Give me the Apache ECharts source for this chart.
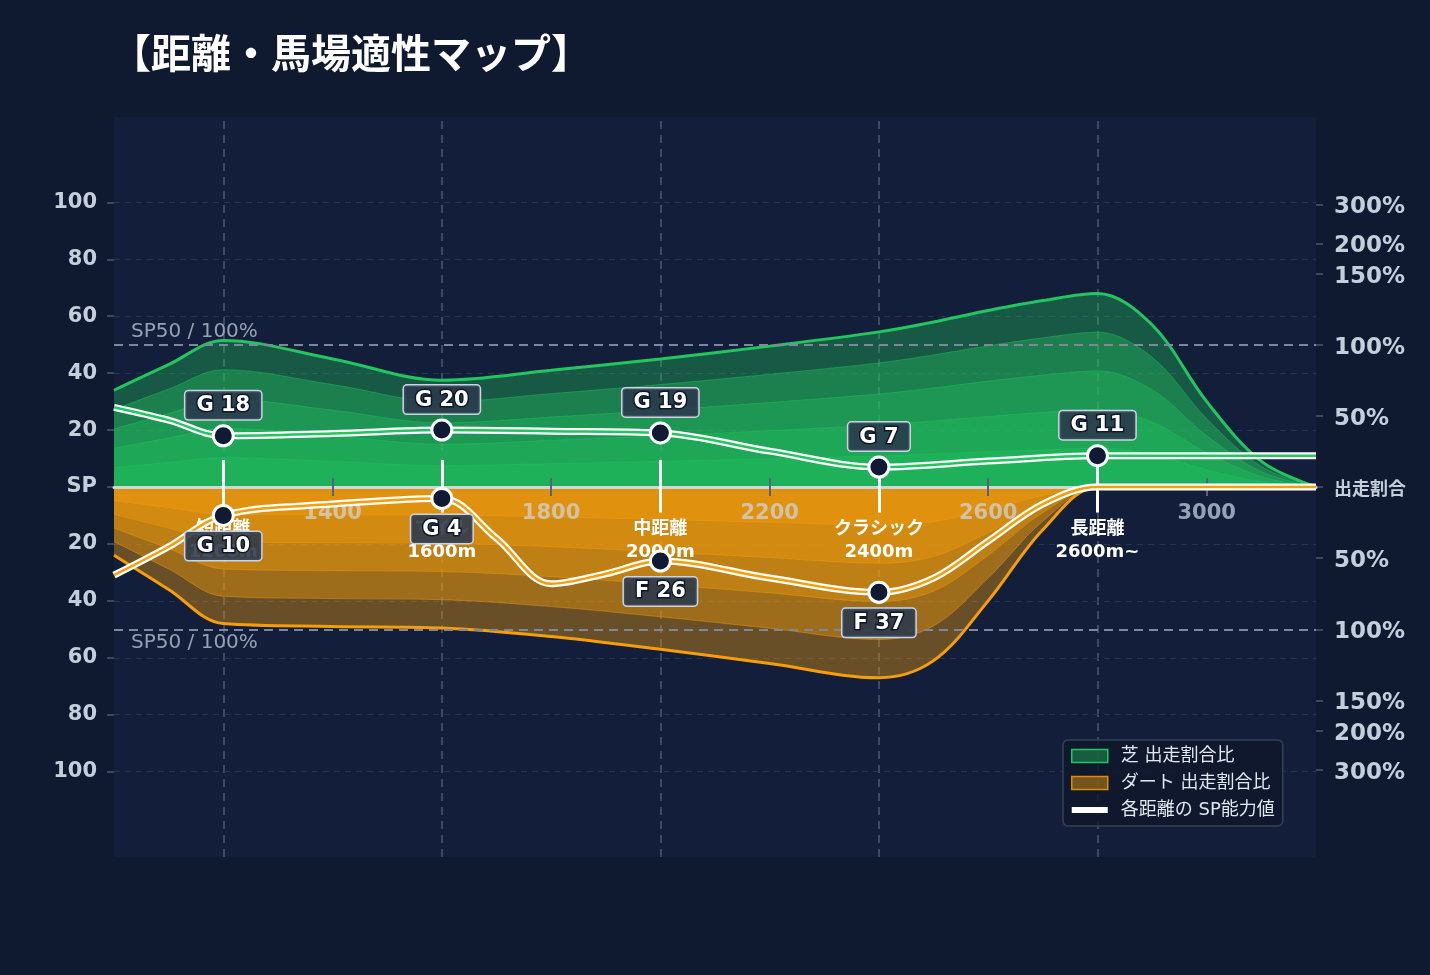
<!DOCTYPE html>
<html lang="ja">
<head>
<meta charset="utf-8">
<title>距離・馬場適性マップ</title>
<script src="https://cdn.jsdelivr.net/npm/echarts@6/dist/echarts.min.js"></script>
<style>
  html, body { margin: 0; padding: 0; background: #0f1a30; }
  #chart { width: 1430px; height: 975px; }
</style>
</head>
<body>
<div id="chart"></div>
<script>
// distances (m) where the band outlines were read
const distGrid = [1000, 1100, 1200, 1400, 1600, 1800, 2000, 2200, 2400, 2500, 2600, 2700, 2800, 2900, 3000, 3100, 3200];

// turf run-ratio layers (outer -> inner), SP units
const turf5 = [34, 43, 51.5, 45, 37.5, 41, 45, 49.5, 54.5, 58, 62, 65.5, 68, 57, 30, 9, 0];
const turf4 = [27.2, 34.4, 41.2, 36, 30, 32.8, 36, 39.6, 43.6, 46.4, 49.6, 52.4, 54.4, 45.6, 24, 7.2, 0];
const turf3 = [20.4, 25.8, 30.9, 27, 22.5, 24.6, 27, 29.7, 32.7, 34.8, 37.2, 39.3, 40.8, 34.2, 18, 5.4, 0];
const turf2 = [13.6, 17.2, 20.6, 18, 15, 16.4, 18, 19.8, 21.8, 23.2, 24.8, 26.2, 27.2, 22.8, 12, 3.6, 0];
const turf1 = [6.8, 8.6, 10.3, 9, 7.5, 8.2, 9, 9.9, 10.9, 11.6, 12.4, 13.1, 13.6, 11.4, 6, 1.8, 0];

// dirt run-ratio layers (drawn downwards)
const dirt5 = [-24, -36, -48, -49, -49.5, -52.5, -57, -62, -67, -61, -40, -15, 0, 0, 0, 0, 0];
const dirt4 = [-19.2, -28.8, -38.4, -39.2, -39.6, -42, -45.6, -49.6, -53.6, -48.8, -32, -12, 0, 0, 0, 0, 0];
const dirt3 = [-14.4, -21.6, -28.8, -29.4, -29.7, -31.5, -34.2, -37.2, -40.2, -36.6, -24, -9, 0, 0, 0, 0, 0];
const dirt2 = [-9.6, -14.4, -19.2, -19.6, -19.8, -21, -22.8, -24.8, -26.8, -24.4, -16, -6, 0, 0, 0, 0, 0];
const dirt1 = [-4.8, -7.2, -9.6, -9.8, -9.9, -10.5, -11.4, -12.4, -13.4, -12.2, -8, -3, 0, 0, 0, 0, 0];

// SP ability curves
const turfSpX = [1000, 1100, 1200, 1400, 1600, 1800, 2000, 2200, 2400, 2600, 2800, 3000, 3200];
const turfSp = [28, 23.5, 18, 18.8, 20, 19.6, 19, 12.6, 7, 9.1, 11, 11, 11];
const dirtSpX = [1000, 1100, 1200, 1400, 1600, 1700, 1800, 1900, 2000, 2200, 2400, 2500, 2600, 2700, 2800, 3000, 3200];
const dirtSp = [-31, -21, -10, -6, -4, -18, -34, -30.5, -26, -32, -37, -32, -19, -6, 0, 0, 0];

// marked distances
const catDist = [1200, 1600, 2000, 2400, 2800];
const catLabels = ['短距離\n1200m', 'マイル\n1600m', '中距離\n2000m', 'クラシック\n2400m', '長距離\n2600m~'];
const turfMarks = [18, 20, 19, 7, 11];
const turfRank = ['G', 'G', 'G', 'G', 'G'];
const dirtDist = [1200, 1600, 2000, 2400];
const dirtMarks = [-10, -4, -26, -37];
const dirtRank = ['G', 'G', 'F', 'F'];
const pinTop = 9.5;
const pinBottom = -9;

// axes
const xTicks = [1400, 1800, 2200, 2600, 3000];
const leftTicks = [-100, -80, -60, -40, -20, 0, 20, 40, 60, 80, 100];
const rightTickVals = [99.3, 85.6, 75, 50, 25, 0, -25, -50, -75, -85.6, -99.3];
const rightTickText = ['300%', '200%', '150%', '100%', '50%', '出走割合', '50%', '100%', '150%', '200%', '300%'];
const sp50 = 50;

const FONT = "'DejaVu Sans', 'Noto Sans CJK JP', sans-serif";
const GREEN = '#22c55e';
const ORANGE = '#f59e0b';
const AXIS_TXT = '#c5cfdc';

const chart = echarts.init(document.getElementById('chart'));

const pairs = (xs, ys) => xs.map((x, i) => [x, ys[i]]);

function layer(name, values, color, outer, alpha) {
  return {
    name, type: 'line', data: pairs(distGrid, values),
    smooth: 0.35, showSymbol: false, silent: true, z: 2,
    lineStyle: outer ? { color, width: 3 } : { color, width: 1, opacity: 0.45 },
    areaStyle: { color, opacity: alpha },
  };
}

function spLine(name, xs, ys, color, width, z) {
  return {
    name, type: 'line', data: pairs(xs, ys), smooth: 0.35, showSymbol: false, silent: true, z,
    lineStyle: { color, width },
  };
}

const boxLabel = {
  show: true, distance: 5, color: '#fff', fontFamily: FONT, fontWeight: 'bold', fontSize: 21,
  backgroundColor: 'rgba(42,56,76,0.88)', borderColor: '#cbd5e1', borderWidth: 1.5, borderRadius: 3,
  padding: [4, 11, 3, 11], textBorderColor: '#0f172a', textBorderWidth: 3,
};

const markerStyle = { color: '#111a33', borderColor: '#fff', borderWidth: 3, opacity: 1 };

chart.setOption({
  backgroundColor: '#0f1a30',
  animation: false,
  title: {
    text: '【距離・馬場適性マップ】', left: 106, top: 28,
    textStyle: { color: '#fff', fontSize: 40, fontWeight: 'bold', fontFamily: "'Noto Sans CJK JP', sans-serif" },
  },
  grid: { left: 114, right: 114, top: 117, bottom: 118, show: true, backgroundColor: '#131f3a', borderWidth: 0, outerBoundsMode: 'none' },
  legend: {
    left: 1063, top: 740, orient: 'vertical', selectedMode: false,
    itemWidth: 36, itemHeight: 13, itemGap: 7, padding: [6, 8, 6, 8],
    backgroundColor: 'rgba(15,23,42,0.85)', borderColor: '#334155', borderWidth: 1.5, borderRadius: 5,
    textStyle: { color: '#e2e8f0', fontSize: 18, lineHeight: 20, fontFamily: FONT, padding: [0, 0, 0, 8] },
    data: [
      { name: '芝 出走割合比', icon: 'rect', itemStyle: { color: 'rgba(34,197,94,0.4)', borderColor: GREEN, borderWidth: 1.5 } },
      { name: 'ダート 出走割合比', icon: 'rect', itemStyle: { color: 'rgba(245,158,11,0.45)', borderColor: '#d98c12', borderWidth: 1.5 } },
      { name: '各距離の SP能力値', icon: 'path://M0,0H42V7H0Z', itemStyle: { color: '#fff', borderWidth: 0 } },
    ],
  },
  xAxis: [
    {
      type: 'value', min: 1000, max: 3200, position: 'bottom', z: 3,
      axisLine: { onZero: true, lineStyle: { color: '#cbd5e1', width: 3 } },
      axisTick: { customValues: xTicks, length: 9, lineStyle: { color: '#56637a', width: 2 } },
      axisLabel: { show: false },
      splitLine: { show: false },
    },
    {
      type: 'value', min: 1000, max: 3200, position: 'top', z: 3,
      axisLine: { show: false, onZero: true },
      axisTick: { customValues: xTicks, length: 9, lineStyle: { color: '#56637a', width: 2 } },
      axisLabel: { show: false },
      splitLine: { show: false },
    },
  ],
  yAxis: [
    {
      type: 'value', min: -130, max: 130, position: 'left',
      axisLine: { show: false }, splitLine: { show: false },
      axisTick: { show: true, customValues: leftTicks, length: 7, lineStyle: { color: '#4b5870', width: 1.5 } },
      axisLabel: {
        customValues: leftTicks, margin: 17, color: AXIS_TXT, fontSize: 21, fontWeight: 'bold', fontFamily: FONT,
        padding: [9, 0, 0, 0],
        formatter: v => (v === 0 ? 'SP' : String(Math.abs(v))),
      },
    },
    {
      type: 'value', min: -130, max: 130, position: 'right',
      axisLine: { show: false }, splitLine: { show: false },
      axisTick: { show: true, customValues: rightTickVals, length: 7, lineStyle: { color: '#4b5870', width: 1.5 } },
      axisLabel: {
        customValues: rightTickVals, margin: 18, color: AXIS_TXT, fontSize: 23, fontWeight: 'bold', fontFamily: FONT,
        padding: [6, 0, 0, 0],
        formatter: v => {
          const i = rightTickVals.findIndex(t => Math.abs(t - v) < 0.01);
          const t = i < 0 ? '' : rightTickText[i];
          return v === 0 ? '{s|' + t + '}' : t;
        },
        rich: { s: { fontSize: 18, fontWeight: 'bold', color: AXIS_TXT, fontFamily: FONT } },
      },
    },
  ],
  series: [
    {
      name: 'dist-lines', type: 'line', data: [], z: 1, silent: true,
      markLine: {
        z: 1, silent: true, symbol: 'none', label: { show: false },
        lineStyle: { color: '#3c4a63', width: 2, type: [8, 6] },
        data: catDist.map(d => ({ xAxis: d })),
      },
    },
    {
      name: 'grid-lines', type: 'line', data: [], z: 1, silent: true,
      markLine: {
        z: 1, silent: true, symbol: 'none', label: { show: false },
        lineStyle: { color: '#27344d', width: 1, type: [6, 5] },
        data: leftTicks.filter(v => v !== 0).map(v => ({ yAxis: v })),
      },
    },
    layer('芝 出走割合比', turf5, GREEN, true, 0.35),
    layer('芝4', turf4, GREEN, false, 0.35),
    layer('芝3', turf3, GREEN, false, 0.35),
    layer('芝2', turf2, GREEN, false, 0.35),
    layer('芝1', turf1, GREEN, false, 0.35),
    layer('ダート 出走割合比', dirt5, ORANGE, true, 0.38),
    layer('ダート4', dirt4, ORANGE, false, 0.38),
    layer('ダート3', dirt3, ORANGE, false, 0.38),
    layer('ダート2', dirt2, ORANGE, false, 0.38),
    layer('ダート1', dirt1, ORANGE, false, 0.38),
    {
      name: 'sp50', type: 'line', data: [], z: 3, silent: true,
      markLine: {
        z: 3, silent: true, symbol: 'none',
        lineStyle: { color: '#7d889c', width: 2, type: [9, 6] },
        label: { show: true, formatter: 'SP50 / 100%', color: '#94a1b4', fontSize: 20, fontFamily: FONT, distance: 3, padding: [0, 0, 0, 14] },
        data: [
          { yAxis: sp50, label: { position: 'insideStartTop' } },
          { yAxis: -sp50, label: { position: 'insideStartBottom' } },
        ],
      },
    },
    {
      name: 'x-labels', type: 'scatter', z: 3, silent: true,
      data: xTicks.map(x => [x, 0]), symbolSize: 1, itemStyle: { color: 'transparent' },
      label: {
        show: true, position: 'bottom', distance: 16, formatter: p => String(p.value[0]),
        color: 'rgba(205,214,227,0.9)', fontSize: 21, fontWeight: 'bold', fontFamily: FONT,
      },
    },
    {
      name: 'pins', type: 'line', data: [], z: 4, silent: true,
      markLine: {
        z: 4, silent: true, symbol: 'none',
        lineStyle: { color: '#fff', width: 3, type: 'solid' },
        label: {
          show: true, position: 'end', distance: 5, color: '#fff', fontFamily: FONT, fontWeight: 'bold',
          fontSize: 18, lineHeight: 23, align: 'center',
          formatter: p => catLabels[p.dataIndex],
        },
        data: catDist.map(d => [{ coord: [d, pinTop] }, { coord: [d, pinBottom] }]),
      },
    },
    spLine('各距離の SP能力値', turfSpX, turfSp, '#fff', 7, 5),
    spLine('芝SP', turfSpX, turfSp, GREEN, 2.5, 6),
    spLine('各距離の SP能力値', dirtSpX, dirtSp, '#fff', 7, 5),
    spLine('ダートSP', dirtSpX, dirtSp, ORANGE, 2.5, 6),
    {
      name: '芝マーカー', type: 'scatter', z: 7, silent: true,
      data: pairs(catDist, turfMarks), symbolSize: 20, itemStyle: markerStyle,
      label: { ...boxLabel, position: 'top', formatter: p => turfRank[p.dataIndex] + ' ' + turfMarks[p.dataIndex] },
    },
    {
      name: 'ダートマーカー', type: 'scatter', z: 7, silent: true,
      data: pairs(dirtDist, dirtMarks), symbolSize: 20, itemStyle: markerStyle,
      label: { ...boxLabel, position: 'bottom', formatter: p => dirtRank[p.dataIndex] + ' ' + Math.abs(dirtMarks[p.dataIndex]) },
    },
  ],
});
</script>
</body>
</html>
